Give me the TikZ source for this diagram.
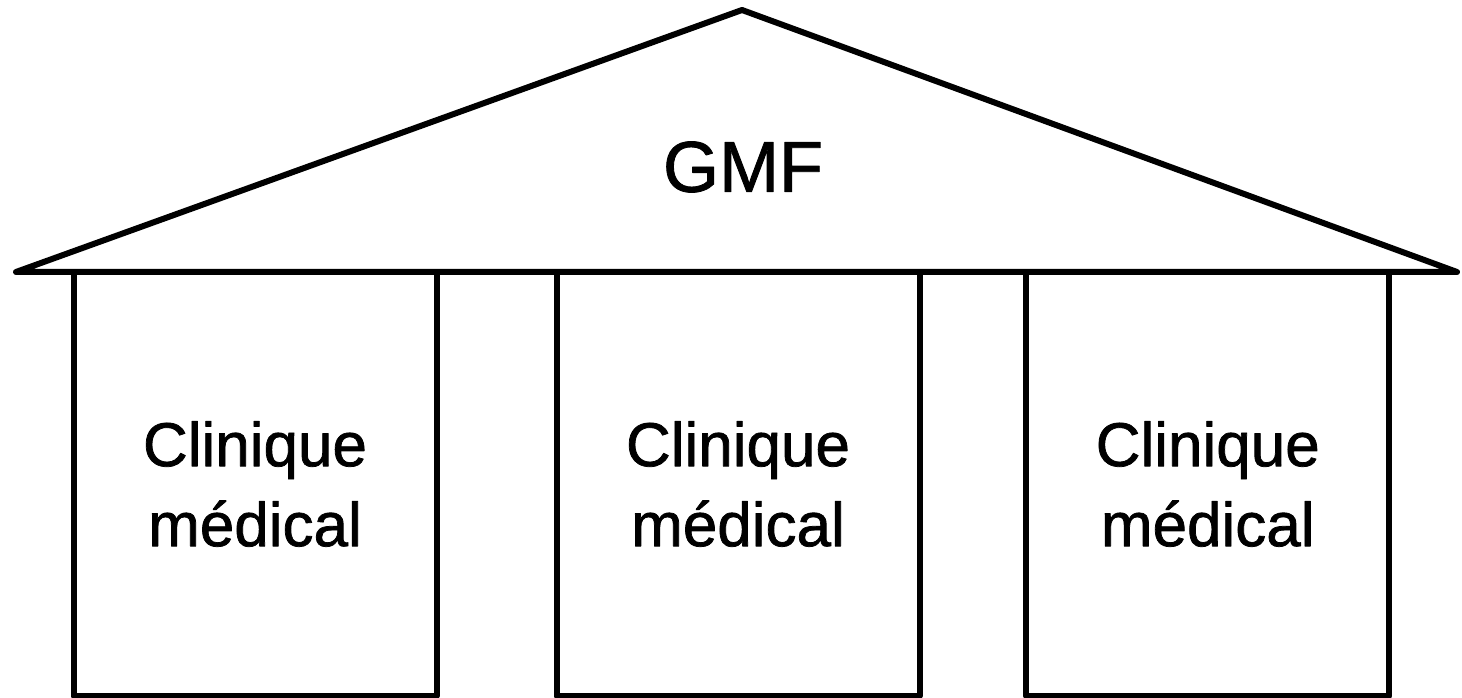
\documentclass[tikz,border=0pt]{standalone}
\usepackage{fontspec}
\setmainfont{Liberation Sans}
\newfontfamily\labelfont[FakeBold=1.2]{Liberation Sans}
\begin{document}
\begin{tikzpicture}[x=1pt,y=1pt,
  line width=6pt, line join=round,
  clinic/.style={draw, rectangle, minimum width=363pt, minimum height=424pt,
    inner sep=0pt, align=center,
    font=\labelfont\fontsize{62}{80}\selectfont},
  rooflabel/.style={font=\labelfont\fontsize{72}{80}\selectfont, inner sep=0pt}]
\useasboundingbox (0,0) rectangle (1462,698);
\coordinate (apex) at (742,688);
\coordinate (rl) at (16,426);
\coordinate (rr) at (1457,426);
\draw (rl) -- (apex) -- (rr) -- cycle;
\node[rooflabel] (gmf) at (743,531) {GMF};
\node[clinic] (c1) at (255,214) {Clinique\\médical};
\node[clinic] (c2) at (738,214) {Clinique\\médical};
\node[clinic] (c3) at (1207.75,214) {Clinique\\médical};
\end{tikzpicture}
\end{document}
